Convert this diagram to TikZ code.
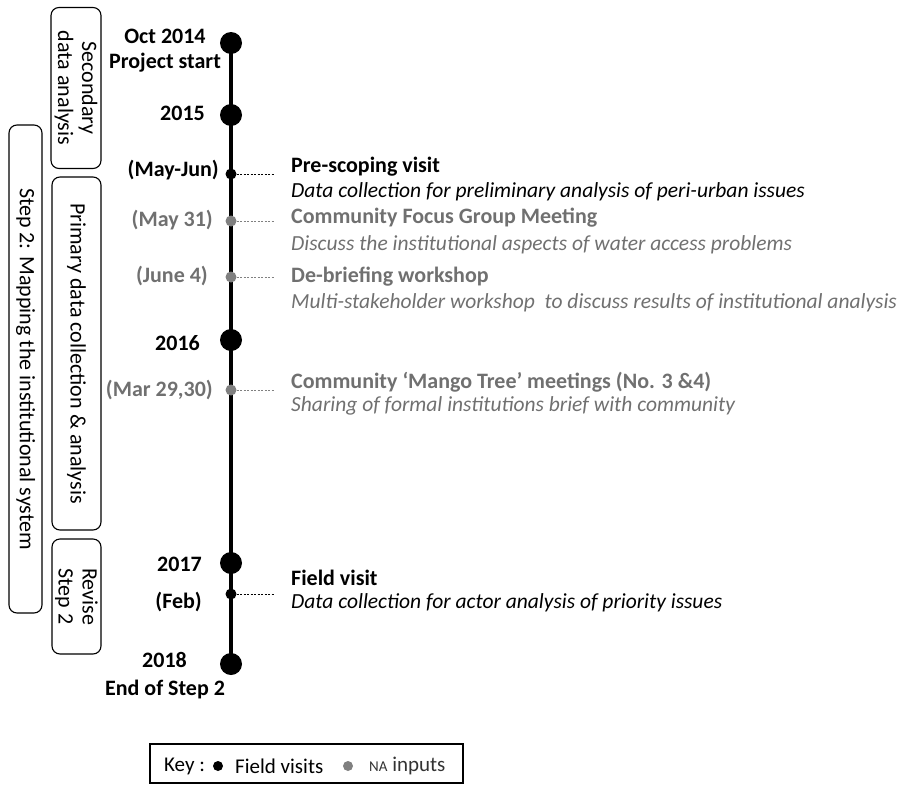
\documentclass[tikz,border=0pt]{standalone}
\usepackage{fontspec}
\setmainfont{Carlito}
\usetikzlibrary{positioning,backgrounds}
\definecolor{nagrey}{RGB}{128,128,128}
\definecolor{natext}{RGB}{112,112,112}

\begin{document}
\begin{tikzpicture}[x=1pt,y=-1pt, every node/.style={font=\fontsize{22}{24}\selectfont, inner sep=0pt},
    bigdot/.style={circle, fill=black, minimum size=22pt},
    fvdot/.style={circle, fill=black, minimum size=11pt},
    nadot/.style={circle, fill=nagrey, minimum size=11pt},
    leader/.style={line width=0.9pt, dash pattern=on 2pt off 1.5pt},
    datelbl/.style={anchor=east, font=\fontsize{22}{25}\selectfont\bfseries},
    evtitle/.style={anchor=west, font=\fontsize{22}{24}\selectfont\bfseries},
    evtext/.style={anchor=west, font=\fontsize{21.5}{24}\selectfont\itshape},
    phase/.style={draw, rounded corners=8pt, line width=1.1pt, rotate=-90, align=center, font=\fontsize{22}{24}\selectfont}]
    \useasboundingbox (0,0) rectangle (903,785);
    % timeline dots
    \node[bigdot] (y14) at (231,43) {};
    \node[bigdot] (y15) at (231,115) {};
    \node[fvdot] (mj) at (231,174) {};
    \node[nadot] (m31) at (231,221) {};
    \node[nadot] (j4) at (231,277) {};
    \node[bigdot] (y16) at (231,340) {};
    \node[nadot] (m29) at (231,390) {};
    \node[bigdot] (y17) at (231,563) {};
    \node[fvdot] (fb) at (231,594) {};
    \node[bigdot] (y18) at (231,664) {};
    \begin{scope}[on background layer]
        \draw[line width=4pt] (y14.center) -- (y18.center);
    \end{scope}
    % dates on the left
    \node[datelbl, anchor=center, align=center] (l14) at (165,51) {Oct 2014\\Project start};
    \node[datelbl] (l15) at (205,113) {2015};
    \node[datelbl] (lmj) at (219,170) {(May-Jun)};
    \node[datelbl, text=natext] (lm31) at (213,220) {(May 31)};
    \node[datelbl, text=natext] (lj4) at (208,276) {(June 4)};
    \node[datelbl] (l16) at (200,343) {2016};
    \node[datelbl, text=natext] (lm29) at (213,390) {(Mar 29,30)};
    \node[datelbl] (l17) at (202,564) {2017};
    \node[datelbl] (lfb) at (202,602) {(Feb)};
    \node[datelbl] (l18) at (187,660) {2018};
    \node[datelbl, anchor=center] (lend) at (165,690) {End of Step 2};
    % leaders
    \coordinate (emj) at (275,174);
    \coordinate (em31) at (275,221);
    \coordinate (ej4) at (275,277);
    \coordinate (em29) at (275,390);
    \coordinate (efb) at (275,594);
    \draw[leader] (mj) -- (emj);
    \draw[leader, nagrey] (m31) -- (em31);
    \draw[leader, nagrey] (j4) -- (ej4);
    \draw[leader, nagrey] (m29) -- (em29);
    \draw[leader] (fb) -- (efb);
    % events
    \node[evtitle] (tmj) at (291,167) {Pre-scoping visit};
    \node[evtext] (dmj) at (291,192) {Data collection for preliminary analysis of peri-urban issues};
    \node[evtitle, text=natext] (tm31) at (291,218) {Community Focus Group Meeting};
    \node[evtext, text=natext] (dm31) at (291,245) {Discuss the institutional aspects of water access problems};
    \node[evtitle, text=natext] (tj4) at (291,277) {De-briefing workshop};
    \node[evtext, text=natext] (dj4) at (291,303) {Multi-stakeholder workshop\ \ to discuss results of institutional analysis};
    \node[evtitle, text=natext] (tm29) at (291,382) {Community ‘Mango Tree’ meetings (No. 3 \&4)};
    \node[evtext, text=natext] (dm29) at (291,406) {Sharing of formal institutions brief with community};
    \node[evtitle] (tfb) at (291,578) {Field visit};
    \node[evtext] (dfb) at (291,603) {Data collection for actor analysis of priority issues};
    % phases
    \node[phase, minimum width=161pt, minimum height=50pt] (sec) at (76,88) {Secondary\\data analysis};
    \node[phase, minimum width=353pt, minimum height=49pt] (prim) at (76.5,353.5) {Primary data collection \& analysis};
    \node[phase, minimum width=115pt, minimum height=49pt] (rev) at (76.5,596.5) {Revise\\Step 2};
    \node[phase, minimum width=488pt, minimum height=33pt] (step) at (25.5,369) {Step 2: Mapping the institutional system};
    % key
    \node[draw, line width=1.1pt, minimum width=313pt, minimum height=39pt] (key) at (306.5,763.5) {};
    \node[anchor=west, font=\fontsize{21}{23}\selectfont] (kk) at (164,766) {Key :};
    \node[circle, fill=black, minimum size=10pt] (kfv) at (218,766) {};
    \node[anchor=west, font=\fontsize{21}{23}\selectfont] (kfvt) at (235,766) {Field visits};
    \node[circle, fill=nagrey, minimum size=10pt] (kna) at (348,766) {};
    \node[anchor=west, font=\fontsize{21}{23}\selectfont, text=black!80] (knat) at (369,766) {{\fontsize{15}{17}\selectfont NA} inputs};
\end{tikzpicture}
\end{document}
